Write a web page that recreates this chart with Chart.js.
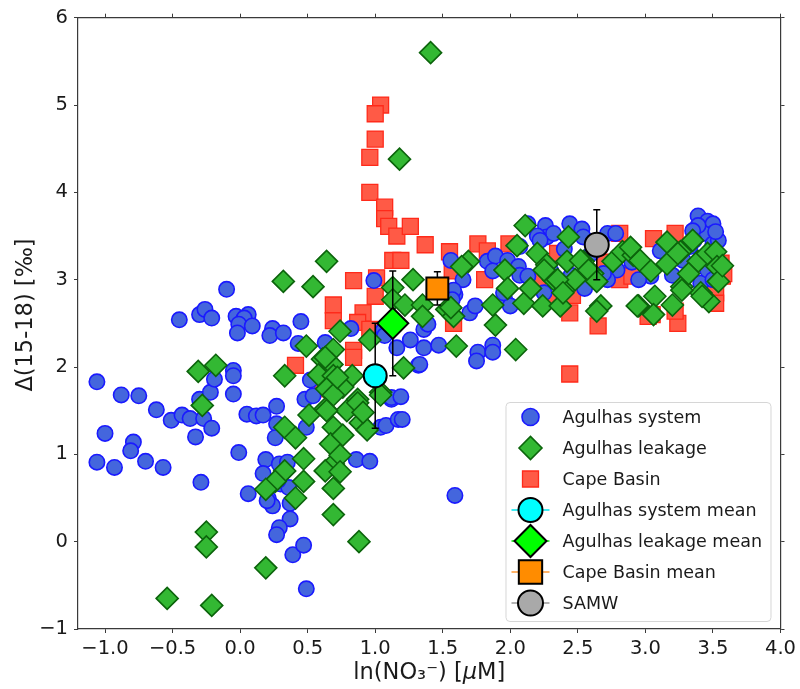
<!DOCTYPE html>
<html>
<head>
<meta charset="utf-8">
<script src="https://cdn.jsdelivr.net/npm/chart.js@4/dist/chart.umd.min.js"></script>
<style>
  html, body { margin: 0; padding: 0; background: #ffffff; }
  canvas { display: block; }
</style>
</head>
<body>
<canvas id="chart" width="800" height="689"></canvas>
<script>
// Axis tick values
const xTicks = [-1.0, -0.5, 0.0, 0.5, 1.0, 1.5, 2.0, 2.5, 3.0, 3.5, 4.0];
const yTicks = [-1, 0, 1, 2, 3, 4, 5, 6];

// Series names, in legend order
const seriesNames = ['Agulhas system', 'Agulhas leakage', 'Cape Basin',
  'Agulhas system mean', 'Agulhas leakage mean', 'Cape Basin mean', 'SAMW'];

// Agulhas system samples: [ln(NO3-), Δ(15-18)]
const agulhasSystem = [
  [-1.06,1.83],[-0.88,1.68],[-0.75,1.67],[-0.62,1.51],[-0.51,1.39],[-0.43,1.45],[-0.37,1.41],
  [-0.30,1.63],[-0.33,1.20],[-0.27,1.41],[-0.21,1.30],[-0.22,1.71],[-0.19,1.86],[-0.05,1.96],
  [-0.05,1.90],[-0.05,1.69],[-1.00,1.24],[-0.79,1.14],[-0.81,1.04],[-1.06,0.91],[-0.93,0.85],
  [-0.70,0.92],[-0.57,0.85],[-0.29,0.68],[-0.01,1.02],[0.05,1.46],[0.12,1.44],[0.17,1.45],
  [0.06,0.55],[0.19,0.94],[0.17,0.78],[0.21,0.49],[0.24,0.41],[0.27,1.55],[0.27,1.35],
  [0.26,1.19],[0.29,0.89],[0.35,0.91],[0.30,0.66],[0.36,0.62],[0.37,0.44],[0.37,0.26],
  [0.29,0.16],[0.27,0.08],[0.39,-0.15],[0.47,-0.04],[0.49,-0.54],[0.49,1.31],[0.48,1.63],
  [0.54,1.67],[0.52,1.85],[0.86,0.94],[0.96,0.92],[1.04,1.31],[1.08,1.33],[1.12,1.63],
  [1.17,1.40],[0.28,0.70],[0.20,0.47],
  [-0.10,2.89],[-0.45,2.54],[-0.30,2.60],[-0.26,2.66],[-0.21,2.56],[-0.03,2.58],[0.06,2.60],
  [0.03,2.56],[-0.01,2.49],[-0.02,2.39],[0.09,2.47],[0.24,2.44],[0.22,2.36],[0.32,2.39],
  [0.45,2.52],[0.99,2.99],[0.82,2.44],[0.63,2.28],[0.43,2.27],
  [1.06,2.42],[1.07,2.36],[1.26,2.31],[1.36,2.22],[1.16,2.22],[1.32,2.02],[1.12,1.65],
  [1.36,2.43],[1.39,2.49],[1.47,2.25],[1.76,2.17],[1.87,2.25],[1.87,2.17],[1.75,2.07],
  [1.33,2.03],[1.19,1.66],[1.59,0.53],[1.20,1.40],
  [1.56,3.22],[1.65,3.00],[1.59,2.83],[1.58,2.88],[1.57,2.77],[1.70,2.62],[1.74,2.70],
  [1.83,3.21],[1.89,3.27],[1.87,3.10],[1.98,3.22],[2.06,3.15],[2.07,3.05],[2.13,3.04],
  [1.96,2.77],[2.00,2.70],[1.95,2.85],[2.13,3.64],[2.26,3.62],[2.27,3.49],[2.32,3.53],
  [2.44,3.64],[2.53,3.58],[2.54,3.49],[2.20,3.50],[2.72,3.53],[2.78,3.53],[2.79,3.11],
  [2.72,3.00],[2.07,3.38],[2.22,3.45],[3.11,3.33],[3.39,3.73],[3.46,3.67],[3.50,3.64],
  [3.50,3.53],[3.43,3.53],[3.39,3.62],[3.41,2.96],[3.46,3.11],[3.50,3.00],[3.28,3.22],
  [3.33,3.38],[3.50,3.41],[3.35,3.56],[3.36,3.45],[2.69,3.07],[3.04,3.04],[3.54,3.45],
  [3.52,3.55],[2.40,3.35],[2.60,3.30],[2.30,3.10],[2.45,3.05],[2.90,3.20],[2.25,2.85],
  [2.55,2.90],[2.95,3.00],[3.20,3.05]
];

// Agulhas leakage samples
const agulhasLeakage = [
  [1.41,5.60],[1.18,4.38],[0.32,2.98],[0.54,2.92],[0.64,3.21],[0.74,2.41],[0.49,2.24],
  [0.69,2.20],[0.61,2.09],[0.68,2.03],[0.33,1.90],[0.58,1.91],[0.69,1.90],[0.83,1.90],
  [0.64,1.75],[0.76,1.77],[0.69,1.68],[0.87,1.63],[0.96,2.31],[1.21,1.99],[1.04,1.71],
  [1.28,3.00],[1.13,2.91],[1.13,2.77],[1.22,2.71],[1.35,2.71],[1.35,2.58],
  [-0.31,1.95],[-0.18,2.02],[-0.28,1.56],[-0.25,0.11],[-0.25,-0.06],[-0.54,-0.65],[-0.21,-0.73],
  [0.19,-0.30],[0.88,0.00],[0.33,1.31],[0.41,1.19],[0.47,0.95],[0.33,0.81],[0.26,0.69],
  [0.19,0.60],[0.47,0.69],[0.41,0.50],[0.51,1.45],[0.63,1.52],[0.69,1.31],[0.67,1.12],
  [0.69,0.89],[0.63,0.81],[0.69,0.61],[0.69,0.31],[0.79,1.50],[0.87,1.59],[0.89,1.36],
  [0.94,1.28],[0.72,1.88],[1.04,1.68],[0.63,2.11],[0.76,1.22],[0.74,0.99],[0.64,1.50],
  [0.91,1.48],[0.74,0.80],
  [1.53,2.66],[1.58,2.58],[1.69,3.21],[1.64,3.15],[1.87,2.71],[1.89,2.48],[1.60,2.24],
  [2.04,2.20],[1.96,3.11],[1.98,2.90],[2.05,3.39],[2.11,3.62],[2.10,2.73],[2.15,2.90],
  [2.20,3.30],[2.27,3.17],[2.24,2.70],[2.32,3.00],[2.42,3.21],[2.43,3.49],[2.37,2.70],
  [2.41,2.90],[2.48,3.00],[2.54,3.21],[2.61,3.07],[2.67,2.70],[2.64,2.64],[1.56,2.68],
  [2.25,3.11],[2.35,3.00],[2.39,2.85],[2.52,3.22],[2.58,3.11],[2.64,2.98],[2.76,3.21],
  [2.83,3.32],[2.91,3.28],[2.96,3.22],[2.95,2.70],[3.04,3.10],[3.07,2.81],[3.06,2.60],
  [3.16,3.43],[3.16,3.18],[3.20,2.71],[3.26,3.32],[3.27,2.92],[3.35,3.45],[3.39,3.21],
  [3.41,2.85],[3.46,3.30],[3.52,3.32],[3.53,3.15],[3.54,2.98],[3.47,2.75],[3.42,2.81],
  [2.94,2.70],[2.89,3.37],[3.32,3.07],[3.24,3.30],[3.57,3.16],[3.27,2.88]
];

// Cape Basin samples
const capeBasin = [
  [1.04,5.00],[1.00,4.90],[1.00,4.61],[0.96,4.40],[0.96,4.00],[1.07,3.83],[1.07,3.70],
  [1.10,3.61],[1.16,3.50],[1.26,3.61],[1.37,3.40],[1.55,3.32],[1.13,3.22],[0.84,2.99],
  [1.01,3.02],[1.00,2.81],[0.69,2.71],[0.69,2.53],[0.91,2.62],[0.87,2.51],[0.84,2.19],
  [0.84,2.11],[0.41,2.02],[0.96,2.43],[1.76,3.41],[1.83,3.33],[1.99,3.41],[1.57,3.10],
  [1.81,3.00],[1.58,2.50],[2.46,2.82],[2.44,2.62],[2.65,2.47],[2.32,2.77],[1.19,3.22],
  [2.57,3.00],[2.81,3.53],[2.81,3.00],[2.91,3.11],[3.06,3.47],[3.22,3.53],[3.24,2.50],
  [3.05,2.60],[3.56,3.19],[3.57,3.04],[3.52,2.85],[2.44,1.92],[3.02,2.58],[2.99,3.07],
  [3.22,2.64],[3.58,3.07],[3.52,2.73],[2.90,3.04],[0.61,1.75],[2.20,3.00],[2.35,3.30],
  [2.70,3.20]
];

// Group means with ±1σ
const meanX   = [1.00, 1.13, 1.46, 2.64];
const meanY   = [1.90, 2.50, 2.90, 3.40];
const meanErr = [0.60, 0.60, 0.19, 0.40];

const toPoints = arr => arr.map(p => ({ x: p[0], y: p[1] }));
const FONT = "'DejaVu Sans', sans-serif";
const minus = s => String(s).replace('-', '\u2212');

const meanStyles = [
  { pointStyle: 'circle',  radius: 11.5, bg: '#00ffff', line: '#00e5ee', legendRadius: 12 },
  { pointStyle: 'rectRot', radius: 15.5, bg: '#00ff00', line: '#00dd00', legendRadius: 16 },
  { pointStyle: 'rect',    radius: 15.5, bg: '#ff8c00', line: '#ff9933', legendRadius: 16.5 },
  { pointStyle: 'circle',  radius: 12,   bg: '#a9a9a9', line: '#9a9a9a', legendRadius: 12.5 }
];

const datasets = [
  { label: seriesNames[0], data: toPoints(agulhasSystem), order: 2,
    pointStyle: 'circle', pointRadius: 7.7, backgroundColor: '#4466dd', borderColor: '#1a1aff',
    borderWidth: 1.6, legendRadius: 8.5 },
  { label: seriesNames[1], data: toPoints(agulhasLeakage), order: 1,
    pointStyle: 'rectRot', pointRadius: 11, backgroundColor: '#33b833', borderColor: '#0c640c',
    borderWidth: 1.6, legendRadius: 11.5 },
  { label: seriesNames[2], data: toPoints(capeBasin), order: 3,
    pointStyle: 'rect', pointRadius: 11.3, backgroundColor: '#ff5a46', borderColor: '#ff2a1a',
    borderWidth: 1.3, legendRadius: 11.3 }
];
meanStyles.forEach((s, i) => {
  datasets.push({
    label: seriesNames[3 + i], data: [{ x: meanX[i], y: meanY[i] }], err: meanErr[i], order: 0,
    pointStyle: s.pointStyle, pointRadius: s.radius, backgroundColor: s.bg, borderColor: '#000000',
    borderWidth: 2, legendRadius: s.legendRadius, legendLine: s.line
  });
});

// Error bars drawn just before each mean marker
const errorBars = {
  id: 'errorBars',
  beforeDatasetDraw(chart, args) {
    const ds = chart.data.datasets[args.index];
    if (ds.err == null) return;
    const ctx = chart.ctx, xs = chart.scales.x, ys = chart.scales.y;
    ctx.save();
    ctx.strokeStyle = '#000000';
    ctx.lineWidth = 1.5;
    ds.data.forEach(p => {
      const px = xs.getPixelForValue(p.x);
      const top = ys.getPixelForValue(p.y + ds.err);
      const bot = ys.getPixelForValue(p.y - ds.err);
      ctx.beginPath();
      ctx.moveTo(px, top); ctx.lineTo(px, bot);
      ctx.moveTo(px - 3.5, top); ctx.lineTo(px + 3.5, top);
      ctx.moveTo(px - 3.5, bot); ctx.lineTo(px + 3.5, bot);
      ctx.stroke();
    });
    ctx.restore();
  }
};

// Legend box inside the lower-right corner of the plot
const boxLegend = {
  id: 'boxLegend',
  afterDraw(chart) {
    const ctx = chart.ctx, a = chart.chartArea;
    const w = 265, h = 219;
    const x0 = a.right - 10 - w, y0 = a.bottom - 8 - h;
    ctx.save();
    ctx.beginPath();
    ctx.roundRect(x0 + 0.5, y0 + 0.5, w, h, 4);
    ctx.fillStyle = 'rgba(255,255,255,0.85)';
    ctx.fill();
    ctx.strokeStyle = '#d6d6d6';
    ctx.lineWidth = 1;
    ctx.stroke();
    chart.data.datasets.forEach((ds, i) => {
      const cy = y0 + 15 + i * 31;
      const mx = x0 + 25;
      if (ds.legendLine) {
        ctx.strokeStyle = ds.legendLine;
        ctx.lineWidth = 1.5;
        ctx.beginPath();
        ctx.moveTo(mx - 19, cy); ctx.lineTo(mx + 19, cy);
        ctx.stroke();
      }
      ctx.fillStyle = ds.backgroundColor;
      ctx.strokeStyle = ds.borderColor;
      ctx.lineWidth = ds.borderWidth;
      Chart.helpers.drawPoint(ctx, { pointStyle: ds.pointStyle, radius: ds.legendRadius,
        rotation: 0, borderWidth: ds.borderWidth }, mx, cy);
      ctx.fillStyle = '#1a1a1a';
      ctx.font = '17.5px ' + FONT;
      ctx.textBaseline = 'middle';
      ctx.textAlign = 'left';
      ctx.fillText(ds.label, x0 + 57, cy + 1);
    });
    ctx.restore();
  }
};

// Axis titles
const axisTitles = {
  id: 'axisTitles',
  afterDraw(chart) {
    const ctx = chart.ctx, a = chart.chartArea;
    ctx.save();
    ctx.fillStyle = '#1a1a1a';
    ctx.textBaseline = 'alphabetic';
    // x title with italic μ
    const parts = [['ln(NO\u2083\u207B) [', ''], ['\u03BC', 'italic '], ['M]', '']];
    const size = 22.5;
    let total = 0;
    parts.forEach(p => { ctx.font = p[1] + size + 'px ' + FONT; total += ctx.measureText(p[0]).width; });
    let x = (a.left + a.right) / 2 - total / 2;
    parts.forEach(p => {
      ctx.font = p[1] + size + 'px ' + FONT;
      ctx.textAlign = 'left';
      ctx.fillText(p[0], x, 679);
      x += ctx.measureText(p[0]).width;
    });
    // y title
    ctx.translate(32, 315);
    ctx.rotate(-Math.PI / 2);
    ctx.font = size + 'px ' + FONT;
    ctx.textAlign = 'center';
    ctx.fillText('\u0394(15-18) [\u2030]', 0, 0);
    ctx.restore();
  }
};

const frameColor = '#3a3a3a';
const fixTicks = list => scale => { scale.ticks = list.map(v => ({ value: v })); };

new Chart(document.getElementById('chart'), {
  type: 'scatter',
  data: { datasets },
  options: {
    responsive: false,
    animation: false,
    events: [],
    layout: { padding: 0 },
    plugins: { legend: { display: false }, tooltip: { enabled: false } },
    scales: {
      x: {
        type: 'linear', position: 'bottom', min: -1.2, max: 4.0,
        afterBuildTicks: fixTicks(xTicks),
        afterFit: s => { s.height = 60; },
        grid: { display: true, drawOnChartArea: false, drawTicks: true, tickLength: 4, color: frameColor, lineWidth: 1 },
        border: { display: true, color: frameColor, width: 1.2 },
        ticks: { color: '#1a1a1a', font: { family: FONT, size: 19.5 }, padding: 4, maxRotation: 0,
          callback: v => minus(Number(v).toFixed(1)) }
      },
      x2: {
        type: 'linear', position: 'top', min: -1.2, max: 4.0,
        afterBuildTicks: fixTicks(xTicks),
        afterFit: s => { s.height = 12; },
        grid: { display: true, drawOnChartArea: false, drawTicks: true, tickLength: 4, color: frameColor, lineWidth: 1 },
        border: { display: true, color: frameColor, width: 1.2 },
        ticks: { display: false }
      },
      y: {
        type: 'linear', position: 'left', min: -1, max: 6,
        afterBuildTicks: fixTicks(yTicks),
        afterFit: s => { s.width = 78; },
        grid: { display: true, drawOnChartArea: false, drawTicks: true, tickLength: 4, color: frameColor, lineWidth: 1 },
        border: { display: true, color: frameColor, width: 1.2 },
        ticks: { color: '#1a1a1a', font: { family: FONT, size: 19.5 }, padding: 6,
          callback: v => minus(String(v)) }
      },
      y2: {
        type: 'linear', position: 'right', min: -1, max: 6,
        afterBuildTicks: fixTicks(yTicks),
        afterFit: s => { s.width = 18; },
        grid: { display: true, drawOnChartArea: false, drawTicks: true, tickLength: 4, color: frameColor, lineWidth: 1 },
        border: { display: true, color: frameColor, width: 1.2 },
        ticks: { display: false }
      }
    }
  },
  plugins: [errorBars, boxLegend, axisTitles]
});
</script>
</body>
</html>
